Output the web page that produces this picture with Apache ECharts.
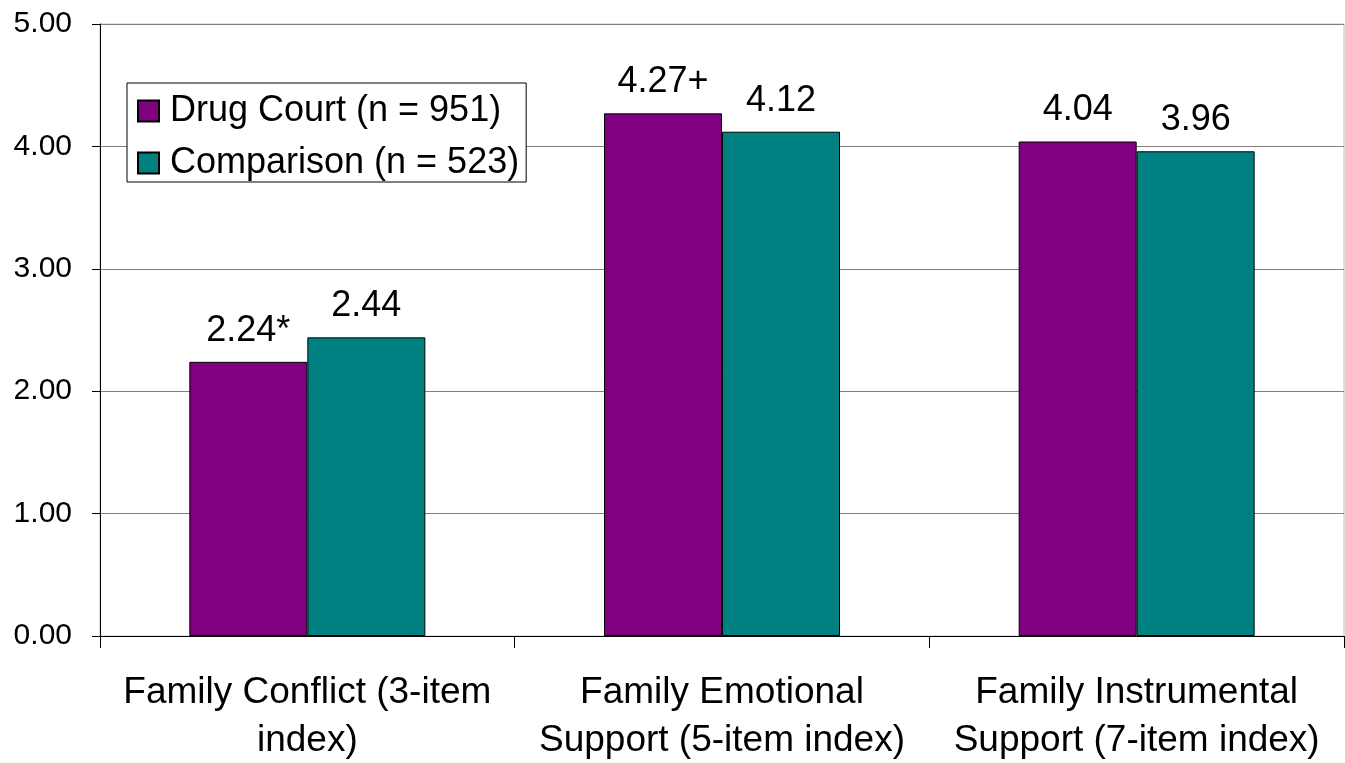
<!DOCTYPE html>
<html>
<head>
<meta charset="utf-8">
<script src="https://cdn.jsdelivr.net/npm/echarts@6/dist/echarts.min.js"></script>
<style>html,body{margin:0;padding:0;background:#fff;}#c{width:1345px;height:763px;}</style>
</head>
<body>
<div id="c"></div>
<script>
var categories = ['Family Conflict (3-item\nindex)', 'Family Emotional\nSupport (5-item index)', 'Family Instrumental\nSupport (7-item index)'];
var seriesNames = ['Drug Court (n = 951)', 'Comparison (n = 523)'];
var drugCourt = [2.24, 4.27, 4.04];
var comparison = [2.44, 4.12, 3.96];
var drugCourtLabels = ['2.24*', '4.27+', '4.04'];
var comparisonLabels = ['2.44', '4.12', '3.96'];
var yTicks = [0, 1, 2, 3, 4, 5];

var font = '"Liberation Sans", Arial, sans-serif';
var chart = echarts.init(document.getElementById('c'));
function mkLabel(arr) {
  return {
    show: true, position: 'top', distance: 13,
    fontFamily: font, fontSize: 36, color: '#000',
    formatter: function (p) { return arr[p.dataIndex]; }
  };
}
chart.setOption({
  animation: false,
  backgroundColor: '#fff',
  grid: { left: 100, right: 1, top: 24, bottom: 127, show: true, borderColor: '#c0c0c0', borderWidth: 1,
    backgroundColor: 'transparent', outerBoundsMode: 'none', containLabel: false },
  legend: {
    orient: 'vertical', left: 127, top: 83,
    padding: [10, 7, 1, 10],
    itemWidth: 21, itemHeight: 21, itemGap: 16,
    backgroundColor: '#fff', borderColor: '#000', borderWidth: 1,
    icon: 'rect',
    textStyle: { fontFamily: font, fontSize: 36, color: '#000', lineHeight: 34, padding: [0, 0, 0, 6] },
    data: seriesNames
  },
  xAxis: {
    type: 'category', data: categories,
    axisLine: { lineStyle: { color: '#000', width: 1 } },
    axisTick: { show: true, length: 12, lineStyle: { color: '#000' } },
    axisLabel: { fontFamily: font, fontSize: 37, color: '#000', margin: 33, lineHeight: 48, interval: 0 }
  },
  yAxis: {
    type: 'value', min: 0, max: 5, interval: 1,
    axisLine: { show: true, lineStyle: { color: '#000', width: 1 } },
    axisTick: { show: true, length: 8, lineStyle: { color: '#000' } },
    axisLabel: { fontFamily: font, fontSize: 30, color: '#000', margin: 28,
      formatter: function (v) { return yTicks.indexOf(v) >= 0 ? v.toFixed(2) : ''; } },
    splitLine: { show: true, lineStyle: { color: '#808080', width: 1 } }
  },
  series: [
    { name: seriesNames[0], type: 'bar', data: drugCourt, barWidth: 118, barGap: '0%',
      itemStyle: { color: '#800080', borderColor: '#000', borderWidth: 1 },
      label: mkLabel(drugCourtLabels) },
    { name: seriesNames[1], type: 'bar', data: comparison, barWidth: 118, barGap: '0%',
      itemStyle: { color: '#008080', borderColor: '#000', borderWidth: 1 },
      label: mkLabel(comparisonLabels) }
  ]
});
</script>
</body>
</html>
